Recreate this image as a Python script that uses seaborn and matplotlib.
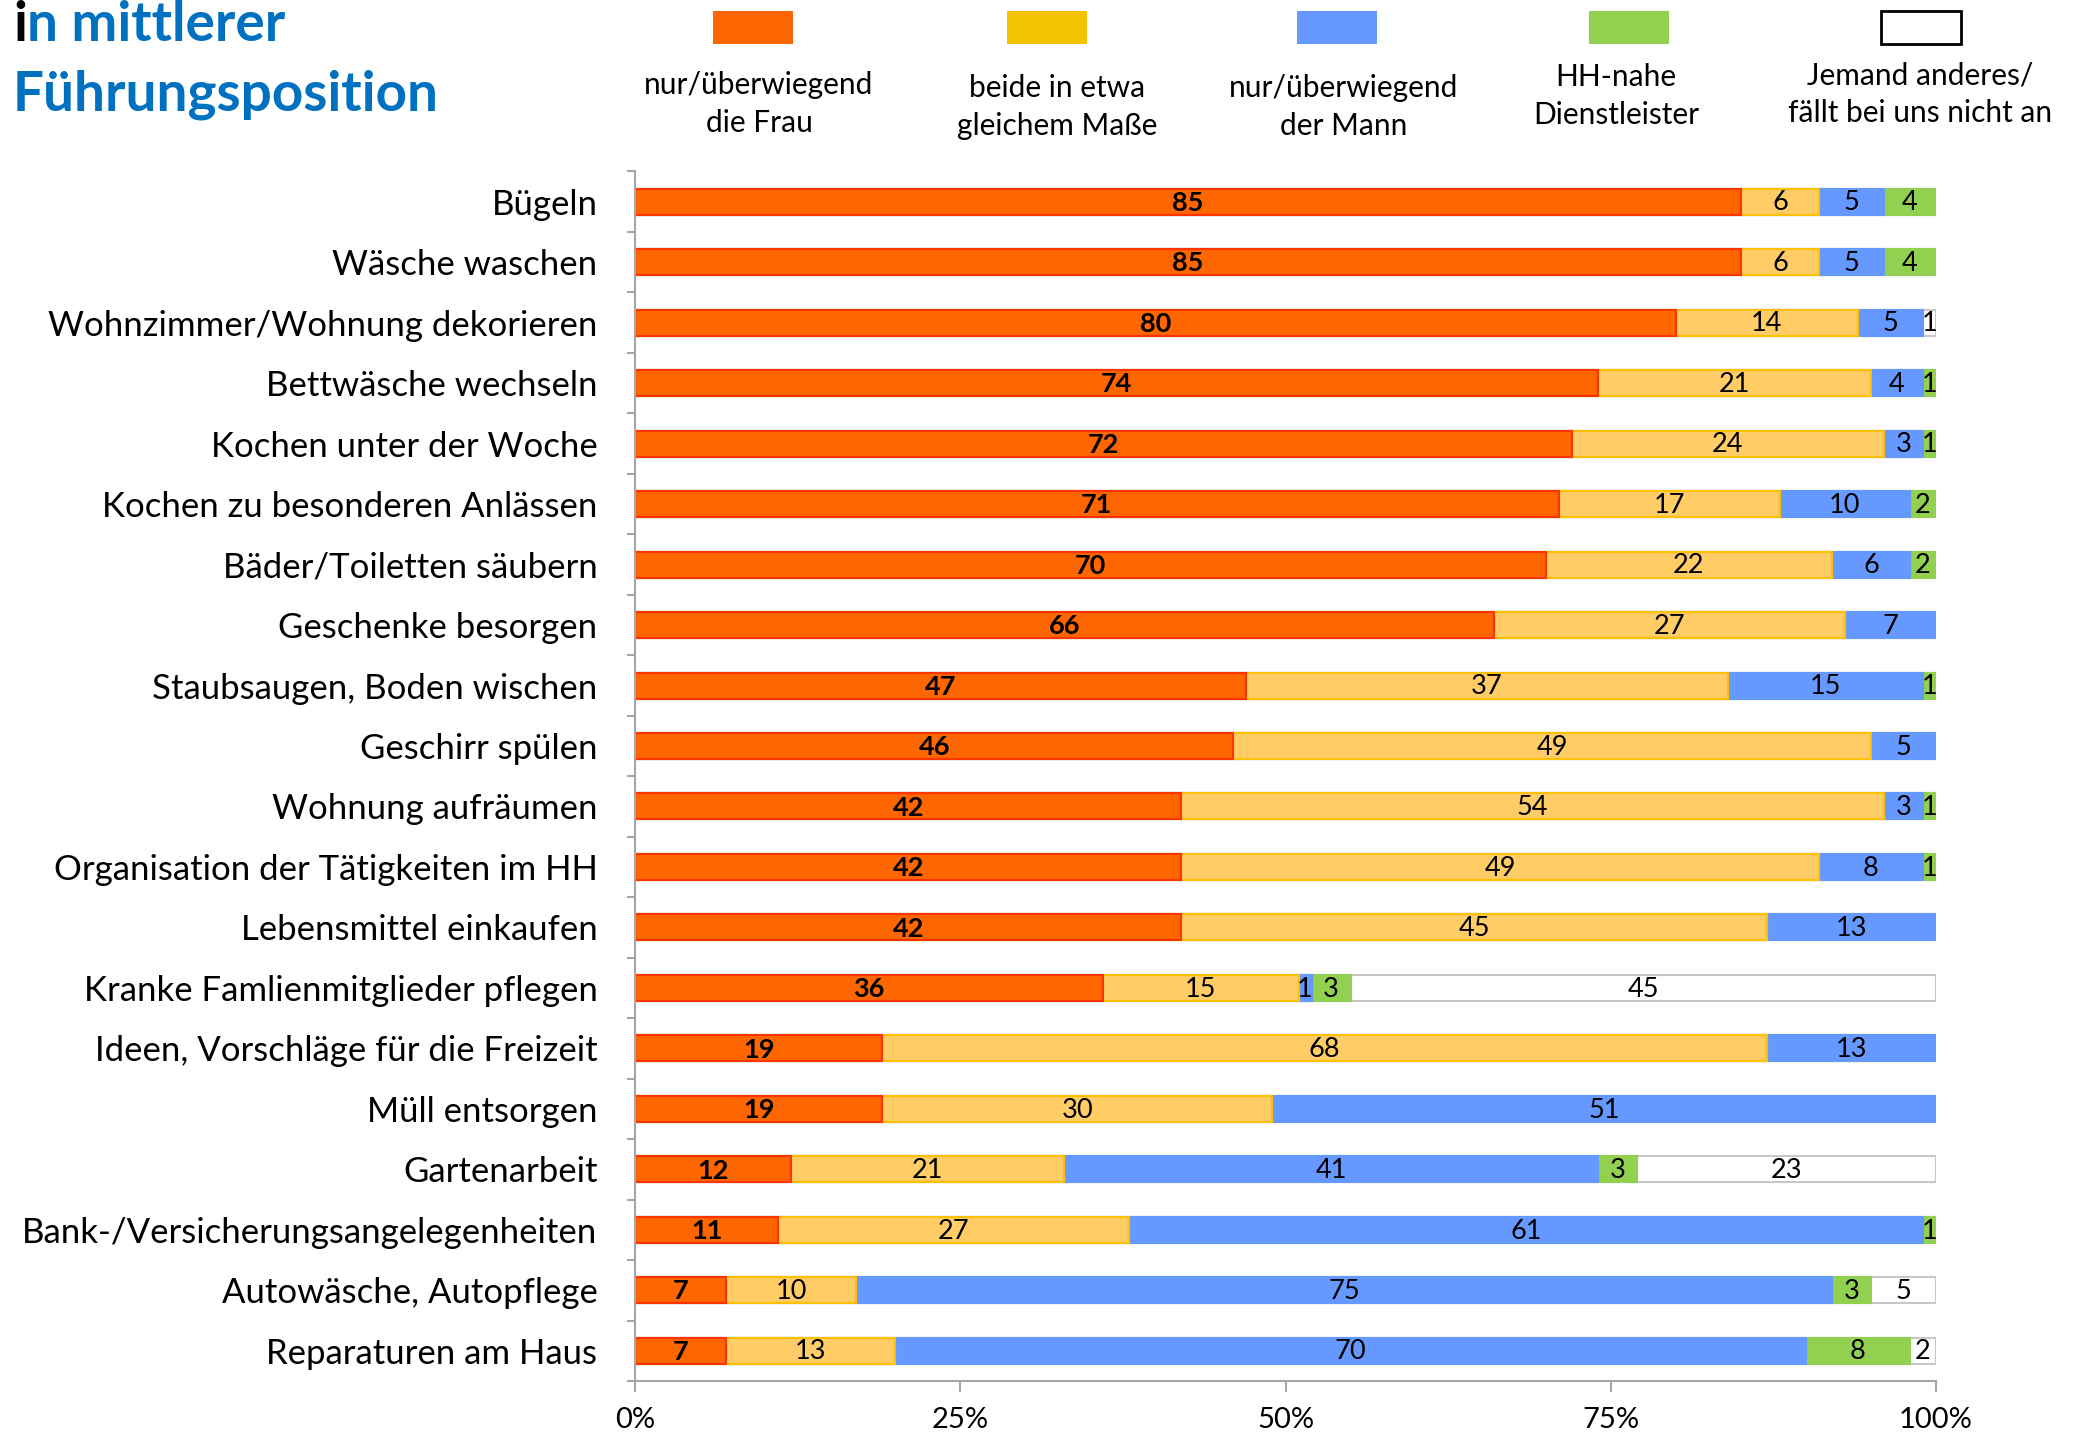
import numpy as np
import pandas as pd
import seaborn as sns
import matplotlib.pyplot as plt
from matplotlib.patches import Rectangle
from matplotlib.ticker import FixedLocator

# Household tasks, top to bottom
categories = [
    "Bügeln",
    "Wäsche waschen",
    "Wohnzimmer/Wohnung dekorieren",
    "Bettwäsche wechseln",
    "Kochen unter der Woche",
    "Kochen zu besonderen Anlässen",
    "Bäder/Toiletten säubern",
    "Geschenke besorgen",
    "Staubsaugen, Boden wischen",
    "Geschirr spülen",
    "Wohnung aufräumen",
    "Organisation der Tätigkeiten im HH",
    "Lebensmittel einkaufen",
    "Kranke Famlienmitglieder pflegen",
    "Ideen, Vorschläge für die Freizeit",
    "Müll entsorgen",
    "Gartenarbeit",
    "Bank-/Versicherungsangelegenheiten",
    "Autowäsche, Autopflege",
    "Reparaturen am Haus",
]

# Shares in percent per answer
frau = [85, 85, 80, 74, 72, 71, 70, 66, 47, 46, 42, 42, 42, 36, 19, 19, 12, 11, 7, 7]
beide = [6, 6, 14, 21, 24, 17, 22, 27, 37, 49, 54, 49, 45, 15, 68, 30, 21, 27, 10, 13]
mann = [5, 5, 5, 4, 3, 10, 6, 7, 15, 5, 3, 8, 13, 1, 13, 51, 41, 61, 75, 70]
dienstleister = [4, 4, 0, 1, 1, 2, 2, 0, 1, 0, 1, 1, 0, 3, 0, 0, 3, 1, 3, 8]
andere = [0, 0, 1, 0, 0, 0, 0, 0, 0, 0, 0, 0, 0, 45, 0, 0, 23, 0, 5, 2]

series_labels = [
    "nur/überwiegend\ndie Frau",
    "beide in etwa\ngleichem Maße",
    "nur/überwiegend\nder Mann",
    "HH-nahe\nDienstleister",
    "Jemand anderes/\nfällt bei uns nicht an",
]
x_ticks = [0, 25, 50, 75, 100]
x_tick_labels = ["0%", "25%", "50%", "75%", "100%"]

fills = ["#FF6600", "#FFCC66", "#6699FF", "#92D050", "#FFFFFF"]
edges = ["#FF3300", "#FFC000", "#6699FF", "#92D050", "#C8C8C8"]
legend_fills = ["#FF6600", "#F3C200", "#6699FF", "#92D050", "#FFFFFF"]
legend_edges = ["#FF6600", "#F3C200", "#6699FF", "#92D050", "#000000"]
axis_grey = "#A6A6A6"

sns.set_theme(style="white")
plt.rcParams["font.family"] = ["Lato", "DejaVu Sans"]

W, H = 2080, 1436
fig = plt.figure(figsize=(W / 100, H / 100), dpi=100)
ax = fig.add_axes([635 / W, 1 - 1381 / H, (1936 - 635) / W, (1381 - 171.5) / H])

parts = np.array([frau, beide, mann, dienstleister, andere], dtype=float)
cum = np.cumsum(parts, axis=0)
share = cum / cum[-1] * 100  # 100 % stacked
df = pd.DataFrame({"Tätigkeit": categories})
for i in range(5):
    df[f"s{i}"] = share[i]

# stacked bars: draw cumulative layers from the longest to the shortest
for i in reversed(range(5)):
    sns.barplot(data=df, x=f"s{i}", y="Tätigkeit", order=categories, orient="h",
                color=fills[i], saturation=1, edgecolor=edges[i], linewidth=1.5,
                width=0.43, ax=ax, zorder=2)

# value labels in the segment centres
left = np.vstack([np.zeros(len(categories)), share[:-1]])
for i in range(5):
    for j, v in enumerate(parts[i]):
        if v > 0:
            xc = (left[i][j] + share[i][j]) / 2
            ax.text(xc, j + 0.02, f"{int(v)}", ha="center", va="center",
                    fontsize=19.5, color="black",
                    fontweight="bold" if i == 0 else "normal", zorder=5)

ax.set_xlim(0, 100)
ax.set_ylim(len(categories) - 0.5, -0.5)
ax.set_xlabel("")
ax.set_ylabel("")
ax.set_xticks(x_ticks)
ax.set_xticklabels(x_tick_labels, fontsize=21)
ax.yaxis.set_minor_locator(FixedLocator(np.arange(-0.5, len(categories), 1.0)))
ax.tick_params(axis="y", which="major", length=0, pad=27, labelsize=25, labelcolor="black")
ax.tick_params(axis="y", which="minor", left=True, length=6, width=1.5, color=axis_grey)
ax.tick_params(axis="x", which="major", bottom=True, length=8, width=1.5,
               color=axis_grey, pad=11, labelcolor="black")
for side in ["top", "right"]:
    ax.spines[side].set_visible(False)
for side in ["left", "bottom"]:
    ax.spines[side].set_color(axis_grey)
    ax.spines[side].set_linewidth(1.5)
ax.grid(False)

# title: first letter black, rest blue
title_blue = "#0070C0"
title_kw = dict(fontsize=39.5, fontweight="bold", ha="left", va="baseline")
renderer = fig.canvas.get_renderer()
probe_full = fig.text(0, 0, "in mittlerer", **title_kw)
probe_rest = fig.text(0, 0, "n mittlerer", **title_kw)
offset_px = (probe_full.get_window_extent(renderer).width
             - probe_rest.get_window_extent(renderer).width)
probe_full.remove()
probe_rest.remove()
x0 = 13
fig.text(x0 / W, 1 - 41 / H, "i", color="black", **title_kw)
fig.text((x0 + offset_px) / W, 1 - 41 / H, "n mittlerer", color=title_blue, **title_kw)
fig.text(x0 / W, 1 - 110 / H, "Führungsposition", color=title_blue, **title_kw)

# legend row
box_cx = [753, 1047, 1337, 1629, 1921]
text_cx = [759, 1057, 1344, 1616, 1920]
text_cy = [104, 107, 107, 96, 94]
for k in range(5):
    fig.patches.append(Rectangle(((box_cx[k] - 40) / W, 1 - 44 / H), 80 / W, 33 / H,
                                 transform=fig.transFigure, facecolor=legend_fills[k],
                                 edgecolor=legend_edges[k], linewidth=2 if k == 4 else 0))
    fig.text(text_cx[k] / W, 1 - text_cy[k] / H, series_labels[k], fontsize=21.5,
             ha="center", va="center", color="black", linespacing=1.4)

fig.savefig("out.png", dpi=100)
